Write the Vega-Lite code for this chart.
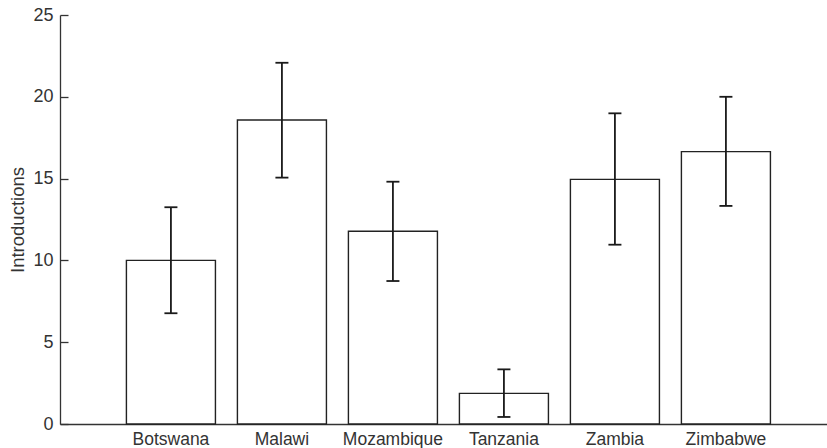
{
  "$schema": "https://vega.github.io/schema/vega-lite/v6.json",
  "autosize": {"type": "none"},
  "padding": {"left": 60, "top": 15, "right": 0, "bottom": 24},
  "width": 767,
  "height": 409,
  "background": "white",
  "data": {
    "values": [
      {"country": "Botswana", "value": 10.0, "lo": 6.77, "hi": 13.25},
      {"country": "Malawi", "value": 18.58, "lo": 15.06, "hi": 22.08},
      {"country": "Mozambique", "value": 11.78, "lo": 8.74, "hi": 14.81},
      {"country": "Tanzania", "value": 1.87, "lo": 0.43, "hi": 3.34},
      {"country": "Zambia", "value": 14.95, "lo": 10.96, "hi": 18.99},
      {"country": "Zimbabwe", "value": 16.65, "lo": 13.33, "hi": 20.0}
    ]
  },
  "encoding": {
    "x": {
      "field": "country",
      "type": "nominal",
      "sort": null,
      "scale": {"paddingInner": 0.198, "paddingOuter": 0.554, "align": 0.54},
      "axis": {
        "title": null,
        "labelAngle": 0,
        "ticks": false,
        "labelPadding": 6,
        "labelFont": "Liberation Sans",
        "labelFontSize": 17.5,
        "labelColor": "#333333",
        "domainColor": "#333333",
        "domainWidth": 1.3,
        "grid": false
      }
    }
  },
  "layer": [
    {
      "mark": {"type": "bar", "fill": "white", "stroke": "#222222", "strokeWidth": 1.4},
      "encoding": {
        "y": {
          "field": "value",
          "type": "quantitative",
          "scale": {"domain": [0, 25], "nice": false},
          "axis": {
            "orient": "left",
            "title": "Introductions",
            "titleFont": "Liberation Sans",
            "titleFontSize": 18.5,
            "titleFontWeight": "normal",
            "titleColor": "#333333",
            "titlePadding": 5,
            "values": [0, 5, 10, 15, 20, 25],
            "grid": false,
            "ticks": false,
            "labelPadding": 7,
            "labelFont": "Liberation Sans",
            "labelFontSize": 18,
            "labelColor": "#333333",
            "domainColor": "#333333",
            "domainWidth": 1.3
          }
        }
      }
    },
    {
      "mark": {"type": "rule", "color": "#1a1a1a", "strokeWidth": 1.8},
      "encoding": {
        "y": {
          "field": "lo",
          "type": "quantitative",
          "axis": {
            "orient": "left",
            "offset": -8,
            "title": null,
            "values": [0, 5, 10, 15, 20, 25],
            "grid": false,
            "labels": false,
            "domain": false,
            "ticks": true,
            "tickSize": 8,
            "tickColor": "#333333",
            "tickWidth": 1.3
          }
        },
        "y2": {"field": "hi"}
      }
    },
    {
      "mark": {"type": "tick", "orient": "horizontal", "color": "#1a1a1a", "size": 13, "thickness": 1.8, "opacity": 1},
      "encoding": {
        "y": {"field": "lo", "type": "quantitative", "axis": null}
      }
    },
    {
      "mark": {"type": "tick", "orient": "horizontal", "color": "#1a1a1a", "size": 13, "thickness": 1.8, "opacity": 1},
      "encoding": {
        "y": {"field": "hi", "type": "quantitative", "axis": null}
      }
    }
  ],
  "resolve": {"axis": {"y": "independent"}},
  "config": {"view": {"stroke": null}}
}
